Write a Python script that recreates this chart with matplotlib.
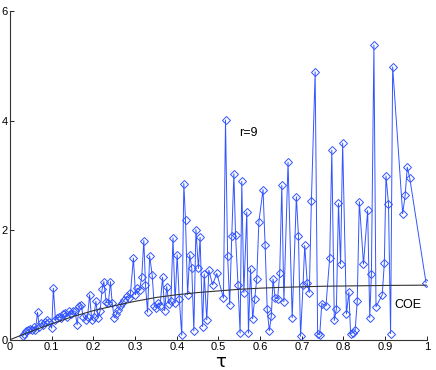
import matplotlib
matplotlib.use('Agg')
import matplotlib.pyplot as plt

# simulated points (tau, value)
tau = [0.030, 0.034, 0.038, 0.043, 0.048, 0.053, 0.058, 0.061, 0.066, 0.070,
       0.075, 0.080, 0.085, 0.089, 0.094, 0.100, 0.104, 0.109, 0.113, 0.118,
       0.123, 0.128, 0.133, 0.137, 0.142, 0.147, 0.152, 0.156, 0.161, 0.166,
       0.170, 0.176, 0.182, 0.186, 0.191, 0.196, 0.201, 0.206, 0.211, 0.216,
       0.221, 0.225, 0.231, 0.236, 0.241, 0.245, 0.250, 0.255, 0.260, 0.265,
       0.269, 0.274, 0.280, 0.285, 0.289, 0.296, 0.301, 0.305, 0.311, 0.316,
       0.321, 0.325, 0.330, 0.335, 0.341, 0.346, 0.351, 0.356, 0.360, 0.366,
       0.371, 0.376, 0.381, 0.386, 0.391, 0.396, 0.401, 0.406, 0.412, 0.417,
       0.421, 0.426, 0.431, 0.436, 0.441, 0.446, 0.452, 0.456, 0.462, 0.466,
       0.472, 0.477, 0.486, 0.496, 0.512, 0.517, 0.522, 0.527, 0.532, 0.537,
       0.541, 0.547, 0.552, 0.556, 0.561, 0.568, 0.572, 0.577, 0.582, 0.587,
       0.592, 0.597, 0.607, 0.612, 0.617, 0.622, 0.627, 0.631, 0.636, 0.642,
       0.647, 0.652, 0.657, 0.667, 0.677, 0.687, 0.692, 0.697, 0.703, 0.707,
       0.713, 0.718, 0.723, 0.732, 0.738, 0.743, 0.748, 0.758, 0.767, 0.772,
       0.778, 0.783, 0.788, 0.793, 0.798, 0.807, 0.813, 0.817, 0.823, 0.828,
       0.833, 0.838, 0.848, 0.858, 0.863, 0.867, 0.873, 0.878, 0.893, 0.898,
       0.902, 0.908, 0.913, 0.918, 0.942, 0.948, 0.953, 0.959, 0.998]
values = [0.06, 0.10, 0.15, 0.18, 0.20, 0.17, 0.24, 0.18, 0.50, 0.24,
          0.30, 0.27, 0.33, 0.36, 0.33, 0.21, 0.94, 0.36, 0.40, 0.42,
          0.40, 0.46, 0.49, 0.42, 0.52, 0.46, 0.52, 0.52, 0.27, 0.61,
          0.64, 0.42, 0.36, 0.42, 0.82, 0.36, 0.42, 0.70, 0.40, 0.52,
          0.92, 1.06, 0.68, 0.67, 1.06, 0.67, 0.40, 0.46, 0.55, 0.61,
          0.67, 0.73, 0.79, 0.76, 0.85, 1.49, 0.82, 0.94, 0.91, 1.15,
          1.81, 1.00, 0.50, 1.53, 1.18, 0.62, 0.58, 0.67, 0.62, 1.14,
          0.53, 0.97, 0.66, 0.71, 1.86, 0.67, 1.55, 0.75, 0.08, 2.85,
          2.18, 0.82, 1.55, 1.31, 0.16, 2.01, 1.30, 1.87, 0.24, 1.20,
          0.36, 1.27, 1.00, 1.21, 0.76, 4.01, 1.53, 0.64, 1.90, 3.03,
          1.92, 1.00, 0.12, 2.89, 0.86, 2.33, 0.12, 1.29, 0.38, 0.75,
          1.11, 2.15, 2.74, 1.72, 0.56, 0.16, 0.44, 1.11, 0.76, 0.75,
          1.21, 2.82, 0.69, 3.24, 0.40, 2.61, 1.89, 0.06, 1.00, 1.72,
          1.04, 0.86, 2.53, 4.89, 0.11, 0.09, 0.66, 0.62, 1.50, 3.46,
          0.35, 0.56, 2.49, 1.38, 3.59, 0.47, 0.87, 0.11, 0.13, 0.17,
          0.70, 2.52, 1.38, 2.36, 0.40, 1.20, 5.38, 0.60, 0.82, 1.40,
          2.99, 2.48, 0.11, 4.98, 2.30, 2.64, 3.15, 2.95, 1.04]

# COE reference curve
coe_tau = [0.0, 0.05, 0.1, 0.15, 0.2, 0.25, 0.3, 0.35, 0.4, 0.45, 0.5,
           0.55, 0.6, 0.65, 0.7, 0.75, 0.8, 0.85, 0.9, 0.95, 1.0]
coe_values = [0.0, 0.15, 0.29, 0.42, 0.53, 0.62, 0.70, 0.77, 0.82, 0.86, 0.89,
              0.92, 0.94, 0.955, 0.965, 0.975, 0.98, 0.985, 0.99, 0.993, 0.995]

xticks = [0, 0.1, 0.2, 0.3, 0.4, 0.5, 0.6, 0.7, 0.8, 0.9, 1]
xtick_labels = ['0', '0.1', '0.2', '0.3', '0.4', '0.5', '0.6', '0.7', '0.8', '0.9', '1']
yticks = [0, 2, 4, 6]

plt.rcParams['font.family'] = ['Liberation Sans', 'DejaVu Sans']

fig = plt.figure(figsize=(4.36, 3.70), dpi=100)
ax = fig.add_axes([0.023, 0.082, 0.956, 0.888])

ax.plot(tau, values, color='#3355ff', linewidth=0.7,
        marker='D', markersize=3.6, markerfacecolor='none',
        markeredgecolor='#3355ff', markeredgewidth=0.7)
ax.plot(coe_tau, coe_values, color='#333333', linewidth=0.8)

ax.text(0.55, 3.78, 'r=9', fontsize=9, va='center', ha='left')
ax.text(0.921, 0.64, 'COE', fontsize=9, va='center', ha='left')

ax.set_xlim(0, 1)
ax.set_ylim(0, 6)
ax.set_xticks(xticks)
ax.set_xticklabels(xtick_labels)
ax.set_yticks(yticks)
ax.tick_params(direction='in', length=3, width=0.6, labelsize=8, pad=2)
ax.tick_params(axis='y', pad=1.5)

for side in ['top', 'right']:
    ax.spines[side].set_visible(False)
for side in ['left', 'bottom']:
    ax.spines[side].set_linewidth(0.8)
    ax.spines[side].set_color('#333333')

ax.set_xlabel('τ', fontsize=13, family=['DejaVu Sans'])
ax.xaxis.set_label_coords(0.505, -0.04)

fig.savefig('out.png', dpi=100)
